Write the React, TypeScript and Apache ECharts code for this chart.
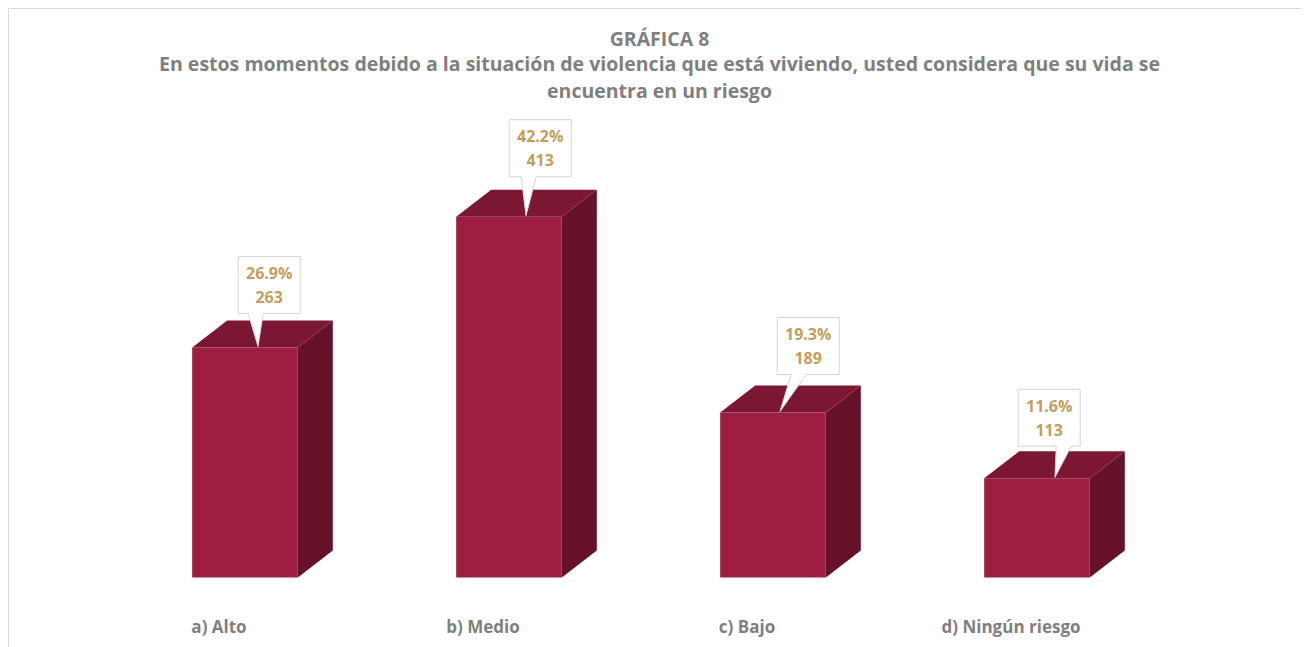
import React, { useEffect, useRef } from "react";
import * as echarts from "echarts";

const categories = ["a) Alto", "b) Medio", "c) Bajo", "d) Ningún riesgo"];
const percentages = [26.9, 42.2, 19.3, 11.6];
const counts = [263, 413, 189, 113];

const titleText = "GRÁFICA 8";
const subtitleLines = [
  "En estos momentos debido a la situación de violencia que está viviendo, usted considera que su vida se",
  "encuentra en un riesgo",
];

// callout layout tweaks (pixels): box left offset from front-left, tail tip offset from bar centre, tail base offset from box left
const calloutBoxDx = [46, 53, 57, 34];
const calloutTipDx = [13, 17, 7, 18];
const calloutBaseDx = [10, 12, 14, 38];
const calloutGap = [34, 40, 38, 32];

const FONT = "'Open Sans'";
const GRAY = "#7f7f7f";

export default function App() {
  const ref = useRef<HTMLDivElement>(null);
  useEffect(() => {
    document.documentElement.style.overflow = "hidden";
    const chart = echarts.init(ref.current!, null, { renderer: "svg" });
    const data = categories.map((c, i) => [i, percentages[i], counts[i]]);
    const W = 1299;
    const titleStyle = { fontFamily: FONT, fontWeight: "bold", fontSize: 19.5, fill: GRAY, align: "center", verticalAlign: "middle" };
    chart.setOption({
      animation: false,
      backgroundColor: "#ffffff",
      graphic: [
        {
          type: "rect",
          shape: { x: 0.5, y: 0.5, width: 1297, height: 700 },
          style: { fill: "none", stroke: "#d9d9d9", lineWidth: 1 },
          silent: true,
        },
        { type: "text", x: W / 2 + 2, y: 30, style: { ...titleStyle, text: titleText } },
        { type: "text", x: W / 2 + 2, y: 55, style: { ...titleStyle, text: subtitleLines[0] } },
        { type: "text", x: W / 2 + 2, y: 82, style: { ...titleStyle, text: subtitleLines[1] } },
      ],
      grid: { left: 105, right: 138, top: 142, bottom: 69.5 },
      xAxis: {
        type: "category",
        data: categories,
        axisLine: { show: false },
        axisTick: { show: false },
        axisLabel: {
          margin: 40,
          fontFamily: FONT,
          fontWeight: "bold",
          fontSize: 17,
          color: GRAY,
          padding: [0, 52, 0, 0],
        },
      },
      yAxis: { type: "value", min: 0, max: 50, show: false, splitLine: { show: false } },
      series: [
        {
          type: "custom",
          data,
          renderItem: (params: any, api: any) => {
            const idx = api.value(0);
            const v = api.value(1);
            const n = api.value(2);
            const top = api.coord([idx, v]);
            const base = api.coord([idx, 0]);
            const band = api.size([1, 0])[0];
            const w = band * 0.4;
            const dx = 35;
            const dy = 27;
            const cx = top[0];
            const x0 = cx - w / 2;
            const x1 = cx + w / 2;
            const ty = top[1];
            const by = base[1];
            const bw = 62;
            const bh = 57;
            const bl = x0 + calloutBoxDx[idx];
            const br = bl + bw;
            const bb = ty - calloutGap[idx];
            const bt = bb - bh;
            const tipX = cx + calloutTipDx[idx];
            const tipY = ty - 1;
            const b1 = bl + calloutBaseDx[idx];
            const b2 = b1 + 15;
            return {
              type: "group",
              children: [
                {
                  type: "polygon",
                  shape: { points: [[x1, ty], [x1 + dx, ty - dy], [x1 + dx, by - dy], [x1, by]] },
                  style: { fill: "#661229" },
                },
                {
                  type: "polygon",
                  shape: { points: [[x0, ty], [x0 + dx, ty - dy], [x1 + dx, ty - dy], [x1, ty]] },
                  style: { fill: "#7b1633" },
                },
                {
                  type: "rect",
                  shape: { x: x0, y: ty, width: w, height: by - ty },
                  style: { fill: "#9d1e40" },
                },
                {
                  type: "polygon",
                  shape: {
                    points: [[bl, bt], [br, bt], [br, bb], [b2, bb], [tipX, tipY], [b1, bb], [bl, bb]],
                  },
                  style: { fill: "#ffffff", stroke: "#d4d4d4", lineWidth: 1 },
                },
                {
                  type: "text",
                  style: {
                    text: `${v.toFixed(1)}%\n${n}`,
                    x: (bl + br) / 2,
                    y: bt + bh / 2,
                    align: "center",
                    verticalAlign: "middle",
                    lineHeight: 24,
                    fill: "#c49d5e",
                    fontFamily: FONT,
                    fontWeight: "bold",
                    fontSize: 16,
                  },
                },
              ],
            };
          },
        },
      ],
    });
    return () => chart.dispose();
  }, []);
  return <div ref={ref} style={{ width: 1299, height: 639 }} />;
}
